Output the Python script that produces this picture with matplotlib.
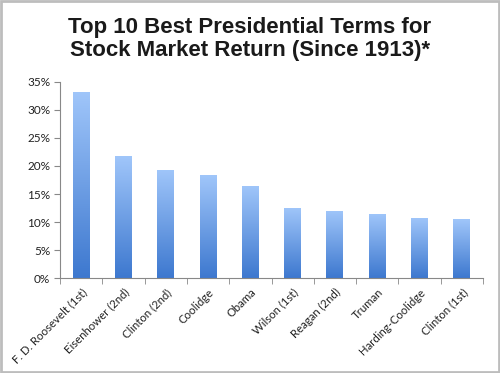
import numpy as np
import matplotlib.pyplot as plt
from matplotlib.patches import Rectangle
from matplotlib.colors import LinearSegmentedColormap
from matplotlib.ticker import FixedLocator, PercentFormatter

terms = ['F. D. Roosevelt (1st)', 'Eisenhower (2nd)', 'Clinton (2nd)', 'Coolidge',
         'Obama', 'Wilson (1st)', 'Reagan (2nd)', 'Truman', 'Harding-Coolidge',
         'Clinton (1st)']
returns = [33.2, 21.7, 19.3, 18.3, 16.5, 12.5, 12.0, 11.4, 10.8, 10.5]
title = 'Top 10 Best Presidential Terms for\nStock Market Return (Since 1913)*'

plt.rcParams['font.family'] = ['Lato', 'DejaVu Sans']

fig = plt.figure(figsize=(5, 3.73), dpi=100)
ax = fig.add_axes([0.12, 0.254, 0.846, 0.527])

# vertical gradient, light at top of each bar
cmap = LinearSegmentedColormap.from_list('bar', ['#3d78cf', '#a0c6fa'])
grad = np.linspace(0, 1, 256).reshape(-1, 1)
width = 0.4
x = np.arange(len(terms))
bars = ax.bar(x, returns, width=width, color='none', edgecolor='none')
for b in bars:
    x0, h = b.get_x(), b.get_height()
    im = ax.imshow(grad, cmap=cmap, origin='lower', aspect='auto',
                   extent=[x0, x0 + width, 0, h], zorder=2)
    im.set_clip_path(b)

ax.set_xlim(-0.5, len(terms) - 0.5)
ax.set_ylim(0, 35)
ax.yaxis.set_major_locator(FixedLocator(np.arange(0, 36, 5)))
ax.yaxis.set_major_formatter(PercentFormatter(decimals=0))

ax.set_xticks(x)
ax.set_xticklabels(terms, rotation=45, ha='right', rotation_mode='anchor',
                   fontsize=8.2, color='#222222')
ax.tick_params(axis='x', which='major', length=0, pad=6)
ax.set_xticks(np.arange(-0.5, len(terms), 1), minor=True)
ax.tick_params(axis='x', which='minor', length=4, color='#888888', direction='out')
ax.tick_params(axis='y', length=4, color='#888888', labelsize=8.5,
               labelcolor='#222222', pad=3)

for s in ['top', 'right']:
    ax.spines[s].set_visible(False)
for s in ['left', 'bottom']:
    ax.spines[s].set_color('#888888')
    ax.spines[s].set_linewidth(0.8)

fig.text(0.5, 0.896, title, ha='center', va='center', fontsize=16,
         fontweight='bold', family=['Liberation Sans', 'DejaVu Sans'],
         color='#1a1a1a', linespacing=1.1)

fig.patches.append(Rectangle((0.002, 0.003), 0.996, 0.994, transform=fig.transFigure,
                             fill=False, edgecolor='#bdbdbd', linewidth=2))

fig.savefig('out.png', dpi=100)
